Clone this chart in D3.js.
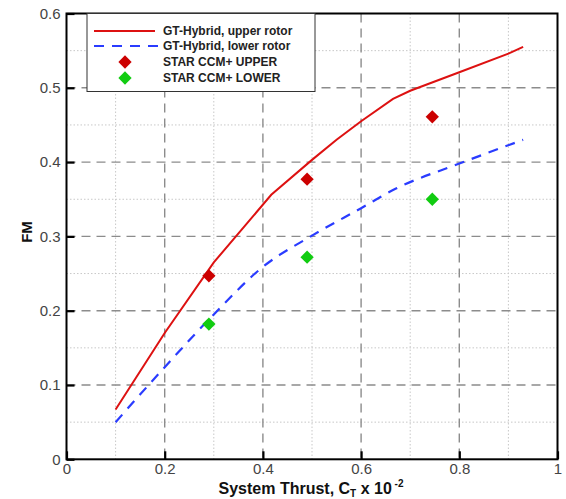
<!DOCTYPE html>
<html>
<head>
<meta charset="utf-8">
<script src="https://cdn.jsdelivr.net/npm/d3@7"></script>
<style>
  html, body { margin: 0; padding: 0; background: #fff; }
  svg { display: block; }
  text { font-family: Arial, "Liberation Sans", Helvetica, sans-serif; }
</style>
</head>
<body>
<svg id="chart" width="566" height="499"></svg>
<script>
// ---- data ----
const upperCurveX = [0.10, 0.20, 0.30, 0.417, 0.50, 0.55, 0.60, 0.665, 0.70, 0.80, 0.90, 0.93];
const upperCurveY = [0.067, 0.170, 0.265, 0.356, 0.403, 0.430, 0.455, 0.485, 0.496, 0.521, 0.546, 0.555];
const lowerCurveX = [0.10, 0.20, 0.30, 0.40, 0.50, 0.60, 0.67, 0.80, 0.93];
const lowerCurveY = [0.050, 0.124, 0.195, 0.259, 0.301, 0.338, 0.364, 0.398, 0.430];
const cfdX = [0.29, 0.49, 0.745];
const cfdUpper = [0.247, 0.377, 0.461];
const cfdLower = [0.182, 0.272, 0.350];
const xTicks = [0, 0.2, 0.4, 0.6, 0.8, 1];
const xTickLabels = ["0", "0.2", "0.4", "0.6", "0.8", "1"];
const yTicks = [0, 0.1, 0.2, 0.3, 0.4, 0.5, 0.6];
const yTickLabels = ["0", "0.1", "0.2", "0.3", "0.4", "0.5", "0.6"];
const xMinor = [0.1, 0.3, 0.5, 0.7, 0.9];
const yMinor = [0.05, 0.15, 0.25, 0.35, 0.45, 0.55];
const legendLabels = ["GT-Hybrid, upper rotor", "GT-Hybrid, lower rotor", "STAR CCM+ UPPER", "STAR CCM+ LOWER"];

// ---- layout ----
const svg = d3.select("#chart");
const L = 66.5, R = 557.5, T = 13.5, B = 459.3;
const x = d3.scaleLinear().domain([0, 1]).range([L, R]);
const y = d3.scaleLinear().domain([0, 0.6]).range([B, T]);

const RED = "#dd1111", BLUE = "#2a3cff", GREEN = "#11cc11", DRED = "#cc0000";

// minor grid (dotted)
const grid = svg.append("g");
grid.selectAll("line.mx").data(xMinor).join("line")
  .attr("x1", d => x(d)).attr("x2", d => x(d)).attr("y1", T).attr("y2", B)
  .attr("stroke", "#c8c8c8").attr("stroke-width", 1).attr("stroke-dasharray", "1.5,2");
grid.selectAll("line.my").data(yMinor).join("line")
  .attr("y1", d => y(d)).attr("y2", d => y(d)).attr("x1", L).attr("x2", R)
  .attr("stroke", "#c8c8c8").attr("stroke-width", 1).attr("stroke-dasharray", "1.5,2");
// major grid (dashed)
grid.selectAll("line.Mx").data(xTicks.slice(1, -1)).join("line")
  .attr("x1", d => x(d)).attr("x2", d => x(d)).attr("y1", T).attr("y2", B)
  .attr("stroke", "#8c8c8c").attr("stroke-width", 1.4).attr("stroke-dasharray", "9,6");
grid.selectAll("line.My").data(yTicks.slice(1, -1)).join("line")
  .attr("y1", d => y(d)).attr("y2", d => y(d)).attr("x1", L).attr("x2", R)
  .attr("stroke", "#8c8c8c").attr("stroke-width", 1.4).attr("stroke-dasharray", "9,6");

// curves
const line = d3.line().x(d => x(d[0])).y(d => y(d[1]));
const smooth = d3.line().x(d => x(d[0])).y(d => y(d[1])).curve(d3.curveMonotoneX);
svg.append("path").datum(upperCurveX.map((v, i) => [v, upperCurveY[i]]))
  .attr("d", line).attr("fill", "none").attr("stroke", RED).attr("stroke-width", 2);
svg.append("path").datum(lowerCurveX.map((v, i) => [v, lowerCurveY[i]]))
  .attr("d", smooth).attr("fill", "none").attr("stroke", BLUE).attr("stroke-width", 2.2)
  .attr("stroke-dasharray", "10,8");

// diamonds
const diamond = d3.symbol().type(d3.symbolSquare).size(88);
svg.selectAll("path.up").data(cfdX.map((v, i) => [v, cfdUpper[i]])).join("path")
  .attr("d", diamond).attr("transform", d => `translate(${x(d[0])},${y(d[1])}) rotate(45)`)
  .attr("fill", DRED);
svg.selectAll("path.lo").data(cfdX.map((v, i) => [v, cfdLower[i]])).join("path")
  .attr("d", diamond).attr("transform", d => `translate(${x(d[0])},${y(d[1])}) rotate(45)`)
  .attr("fill", GREEN);

// axes
const xAxis = d3.axisBottom(x).tickValues(xTicks).tickFormat((d, i) => xTickLabels[i])
  .tickSizeInner(-8).tickSizeOuter(0).tickPadding(4);
const yAxis = d3.axisLeft(y).tickValues(yTicks).tickFormat((d, i) => yTickLabels[i])
  .tickSizeInner(-8).tickSizeOuter(0).tickPadding(6);
const gx = svg.append("g").attr("transform", `translate(0,${B})`).call(xAxis);
const gy = svg.append("g").attr("transform", `translate(${L},0)`).call(yAxis);
[gx, gy].forEach(g => {
  g.select(".domain").remove();
  g.selectAll(".tick line").attr("stroke", "#000").attr("stroke-width", 2.2);
  g.selectAll(".tick text").attr("font-size", 15).attr("fill", "#444")
    .attr("font-family", "Arial, 'Liberation Sans', sans-serif");
});

// frame
svg.append("rect").attr("x", L).attr("y", T).attr("width", R - L).attr("height", B - T)
  .attr("fill", "none").attr("stroke", "#000").attr("stroke-width", 2);

// legend
const lg = svg.append("g");
lg.append("rect").attr("x", 87).attr("y", T).attr("width", 228).attr("height", 78)
  .attr("fill", "#fff").attr("stroke", "#333").attr("stroke-width", 1);
const rowY = [31, 46, 62, 78];
lg.append("line").attr("x1", 94).attr("x2", 155).attr("y1", rowY[0]).attr("y2", rowY[0])
  .attr("stroke", RED).attr("stroke-width", 2);
lg.append("line").attr("x1", 94).attr("x2", 158).attr("y1", rowY[1]).attr("y2", rowY[1])
  .attr("stroke", BLUE).attr("stroke-width", 2.2).attr("stroke-dasharray", "10,8");
lg.append("path").attr("d", diamond).attr("transform", `translate(125,${rowY[2]}) rotate(45)`).attr("fill", DRED);
lg.append("path").attr("d", diamond).attr("transform", `translate(125,${rowY[3]}) rotate(45)`).attr("fill", GREEN);
lg.selectAll("text").data(legendLabels).join("text")
  .attr("x", 163).attr("y", (d, i) => rowY[i]).attr("dy", "0.36em")
  .attr("font-size", 12).attr("font-weight", "bold").attr("fill", "#222")
  .text(d => d);

// axis titles
const xt = svg.append("text").attr("x", 311).attr("y", 494)
  .attr("text-anchor", "middle").attr("font-size", 16).attr("font-weight", "bold").attr("fill", "#111");
xt.append("tspan").text("System Thrust, C");
xt.append("tspan").attr("font-size", 10).attr("dy", 3).text("T");
xt.append("tspan").attr("dy", -3).text(" x 10");
xt.append("tspan").attr("font-size", 10).attr("dy", -7).text(" -2");

svg.append("text").attr("transform", "translate(32,232) rotate(-90)")
  .attr("text-anchor", "middle").attr("font-size", 15).attr("font-weight", "bold").attr("fill", "#111")
  .text("FM");
</script>
</body>
</html>
